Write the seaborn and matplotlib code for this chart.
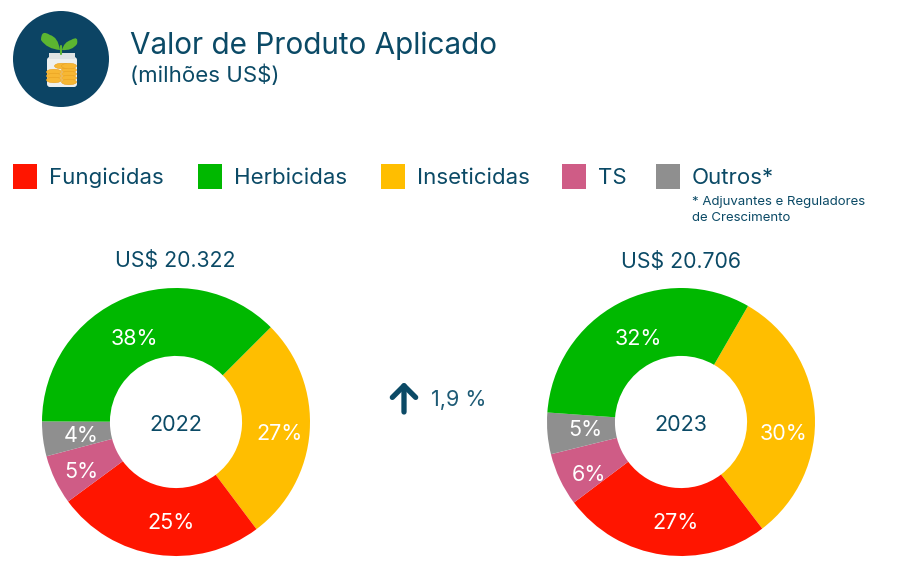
#!/usr/bin/env python3
"""Valor de Produto Aplicado - donuts 2022 / 2023"""

import matplotlib
matplotlib.use('Agg')
import matplotlib.pyplot as plt
from matplotlib.patches import Circle, FancyBboxPatch, Ellipse, PathPatch, Rectangle
from matplotlib.path import Path
import seaborn as sns

sns.set_theme(style='white')
plt.rcParams['font.family'] = ['Inter', 'DejaVu Sans']

# Data
categories = ['Inseticidas', 'Fungicidas', 'TS', 'Outros*', 'Herbicidas']
labels_2022 = ['27%', '25%', '5%', '4%', '38%']
labels_2023 = ['30%', '27%', '6%', '5%', '32%']
shares_2022 = [27.3, 25.2, 6.0, 4.2, 37.5]
shares_2023 = [31.3, 25.1, 6.4, 5.0, 32.2]
start_2022 = 45
start_2023 = 60
total_2022 = 'US$ 20.322'
total_2023 = 'US$ 20.706'
legend_order = ['Fungicidas', 'Herbicidas', 'Inseticidas', 'TS', 'Outros*']

palette = dict(zip(legend_order, sns.color_palette(
    ['#ff1500', '#00b800', '#ffbe00', '#cf5c86', '#8f8f8f'])))
navy = '#0b4a66'

# Position des etiquettes (pixels)
label_xy_2022 = [(279, 434), (171, 523), (81, 472), (81, 436), (134, 339)]
label_xy_2023 = [(784, 434), (675, 523), (589, 475), (585, 430), (638, 339)]

W, H = 900, 581
fig = plt.figure(figsize=(W / 100, H / 100), dpi=100, facecolor='white')

# Fond en coordonnees pixels
bg = fig.add_axes([0, 0, 1, 1])
bg.set_xlim(0, W)
bg.set_ylim(H, 0)
bg.axis('off')

# Icone
bg.add_patch(Circle((61, 59), 48, color='#0c4464', lw=0))
bg.add_patch(FancyBboxPatch((47, 57), 30, 30, boxstyle='round,pad=0,rounding_size=3',
                            fc='#eef0ee', ec='none'))
bg.add_patch(Rectangle((49, 53), 26, 6, fc='#dfe3e3', ec='none'))
for cx, cy in [(54, 72), (54, 76), (54, 80), (69, 70), (69, 74), (69, 78), (69, 82), (62, 66), (69, 66)]:
    bg.add_patch(Ellipse((cx, cy), 15, 5.5, fc='#f7b733', ec='#e8a020', lw=0.4))
codes = [Path.MOVETO, Path.CURVE3, Path.CURVE3, Path.CURVE3, Path.CURVE3, Path.CURVE3, Path.CURVE3]
leaf_l = Path([(60, 50), (58, 37), (50, 35), (41, 29), (41, 40), (47, 49), (60, 50)], codes)
leaf_r = Path([(62, 50), (64, 42), (71, 40), (79, 35), (77, 44), (72, 51), (62, 50)], codes)
bg.add_patch(PathPatch(leaf_l, fc='#5cb531', ec='none'))
bg.add_patch(PathPatch(leaf_r, fc='#5cb531', ec='none'))
bg.plot([61, 61], [46, 54], color='#5cb531', lw=1.5)

# Titres
bg.text(130, 46, 'Valor de Produto Aplicado', fontsize=21.4, color=navy, va='center')
bg.text(130, 75, '(milhões US$)', fontsize=16, color=navy, va='center')

# Legende
legend_x = [13, 198, 381, 562, 656]
for name, x in zip(legend_order, legend_x):
    bg.add_patch(Rectangle((x, 164), 24, 25, fc=palette[name], ec='none'))
    bg.text(x + 36, 178, name, fontsize=16, color=navy, va='center')
bg.text(692, 202, '* Adjuvantes e Reguladores', fontsize=9.5, color=navy, va='center')
bg.text(692, 218, 'de Crescimento', fontsize=9.5, color=navy, va='center')

# Totaux et variation
bg.text(175, 261, total_2022, fontsize=15.3, color=navy, ha='center', va='center')
bg.text(681, 262, total_2023, fontsize=15.3, color=navy, ha='center', va='center')
bg.annotate('', xy=(404, 382), xytext=(404, 412),
            arrowprops=dict(arrowstyle='->,head_width=0.7,head_length=0.7',
                            color=navy, lw=3.8, shrinkA=0, shrinkB=0))
bg.text(431, 400, '1,9 %', fontsize=15.5, color='#1d5a75', va='center')


def donut(cx, cy, r, shares, labels, label_xy, start, year):
    """Un donut place en pixels"""
    ax = fig.add_axes([(cx - r) / W, 1 - (cy + r) / H, 2 * r / W, 2 * r / H])
    colors = [palette[c] for c in categories]
    _, texts = ax.pie(shares, labels=labels, colors=colors, startangle=start,
                      counterclock=False, radius=1, labeldistance=0.74,
                      wedgeprops=dict(width=0.507, linewidth=0))
    for t, (x, y) in zip(texts, label_xy):
        t.set_color('white')
        t.set_fontsize(15.5)
        t.set_ha('center')
        t.set_va('center')
        t.set_position(((x - cx) / r, (cy - y) / r))
    ax.set_xlim(-1, 1)
    ax.set_ylim(-1, 1)
    ax.text(0, -3 / r, year, fontsize=15.5, color=navy, ha='center', va='center')


donut(176, 422, 134, shares_2022, labels_2022, label_xy_2022, start_2022, '2022')
donut(681, 422, 134, shares_2023, labels_2023, label_xy_2023, start_2023, '2023')

fig.savefig('out.png', dpi=100)
